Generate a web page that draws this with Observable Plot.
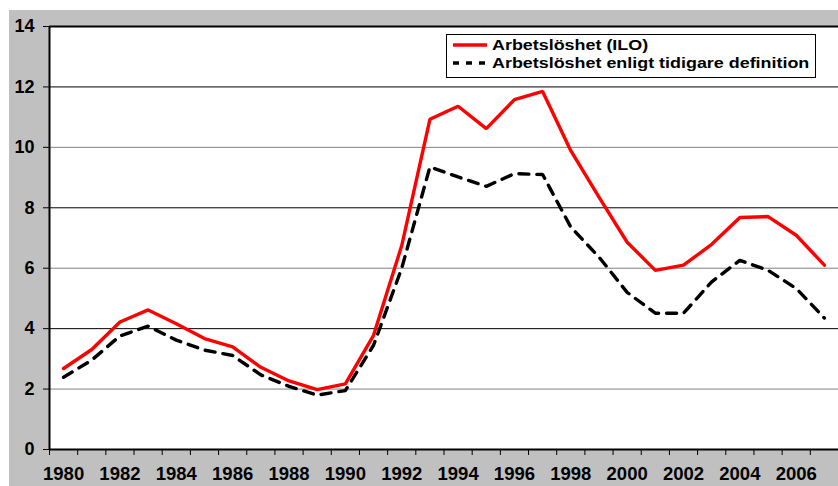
<!DOCTYPE html>
<html><head><meta charset="utf-8">
<script src="https://cdn.jsdelivr.net/npm/d3@7"></script>
<script src="https://cdn.jsdelivr.net/npm/@observablehq/plot@0.6"></script>
<style>
body{margin:0;background:#fff;font-family:"Liberation Sans",Arial,sans-serif;}
#wrap{position:relative;width:838px;height:486px;overflow:hidden;background:#fff;}
#chart{position:absolute;left:9px;top:10px;}
#legend{position:absolute;left:446px;top:34px;width:368px;height:42px;border:1px solid #000;background:#fff;font-weight:bold;font-size:15.5px;color:#000;}
.row{position:absolute;left:6px;height:16px;display:flex;align-items:center;white-space:nowrap;}
.row svg{margin-right:3px;flex:none;}
.row span{display:inline-block;transform:scaleX(1.155);transform-origin:0 50%;}
</style></head>
<body><div id="wrap"><div id="chart"></div><div id="legend"></div></div>
<script>
const years = [1980,1981,1982,1983,1984,1985,1986,1987,1988,1989,1990,1991,1992,1993,1994,1995,1996,1997,1998,1999,2000,2001,2002,2003,2004,2005,2006,2007];
const iloValues = [2.68,3.31,4.22,4.62,4.16,3.67,3.40,2.72,2.27,1.98,2.17,3.78,6.75,10.93,11.36,10.62,11.58,11.85,9.89,8.35,6.86,5.93,6.10,6.79,7.68,7.71,7.09,6.10];
const oldDefValues = [2.39,2.96,3.76,4.08,3.62,3.29,3.11,2.47,2.09,1.80,1.95,3.45,6.00,9.35,9.02,8.71,9.13,9.10,7.36,6.37,5.20,4.51,4.51,5.55,6.26,5.93,5.33,4.35];
const seriesNames = ["Arbetslöshet (ILO)", "Arbetslöshet enligt tidigare definition"];
const yTicks = [0,2,4,6,8,10,12,14];
const gridValues = [2,4,6,8,10,12];
const xTickLabels = [1980,1982,1984,1986,1988,1990,1992,1994,1996,1998,2000,2002,2004,2006];

const rows = years.map((yr,i)=>({year:yr, ilo:iloValues[i], old:oldDefValues[i]}));
const boundaries = years.map(y=>y-0.5).concat([years[years.length-1]+0.5]);
const xDomain = [boundaries[0], boundaries[boundaries.length-1]];

const chart = Plot.plot({
  width: 829, height: 476,
  marginLeft: 40, marginRight: 0, marginTop: 16, marginBottom: 37,
  style: {background:"#c0c0c0", fontFamily:"'Liberation Sans', Arial, sans-serif", fontSize:"18px", fontWeight:"bold", color:"#000", overflow:"visible"},
  x: {domain: xDomain, label: null},
  y: {domain: [0,14], label: null},
  marks: [
    Plot.frame({fill:"white", stroke:null}),
    Plot.ruleY(gridValues, {stroke: d => d % 4 === 0 ? "#000" : "#808080", strokeWidth: 1}),
    Plot.axisY({ticks: yTicks, tickSize: 6, tickPadding: 9, tickFormat: d => String(d), stroke:"#000", fill:"#000", fontSize: 18, fontWeight: "bold", label:null}),
    Plot.axisX({ticks: boundaries, tickSize: 6, tickFormat: () => "", stroke:"#000", label:null}),
    Plot.axisX({ticks: xTickLabels, tickSize: 0, tickPadding: 17, tickFormat: d => String(d), fill:"#000", fontSize: 18.5, fontWeight: "bold", label:null}),
    Plot.line(rows, {x:"year", y:"old", stroke:"#000", strokeWidth:3.4, strokeDasharray:"10,8", strokeLinejoin:"miter"}),
    Plot.line(rows, {x:"year", y:"ilo", stroke:"#ff0000", strokeWidth:3.4, strokeLinejoin:"miter"}),
    Plot.ruleY([14], {stroke:"#000", strokeWidth:2}),
    Plot.ruleY([0], {stroke:"#000", strokeWidth:2}),
    Plot.ruleX([xDomain[0]], {stroke:"#000", strokeWidth:2})
  ]
});
document.getElementById("chart").appendChild(chart);

const legend = document.getElementById("legend");
const swatches = [
  '<svg width="36" height="8"><line x1="0" y1="4" x2="34" y2="4" stroke="#ff0000" stroke-width="3.4"/></svg>',
  '<svg width="36" height="8"><line x1="0" y1="4" x2="34" y2="4" stroke="#000" stroke-width="3.4" stroke-dasharray="6,7"/></svg>'
];
seriesNames.forEach((name,i)=>{
  const r = document.createElement("div");
  r.className = "row";
  r.style.top = (2 + i*18) + "px";
  r.innerHTML = swatches[i] + "<span>" + name + "</span>";
  legend.appendChild(r);
});
</script>
</body></html>
